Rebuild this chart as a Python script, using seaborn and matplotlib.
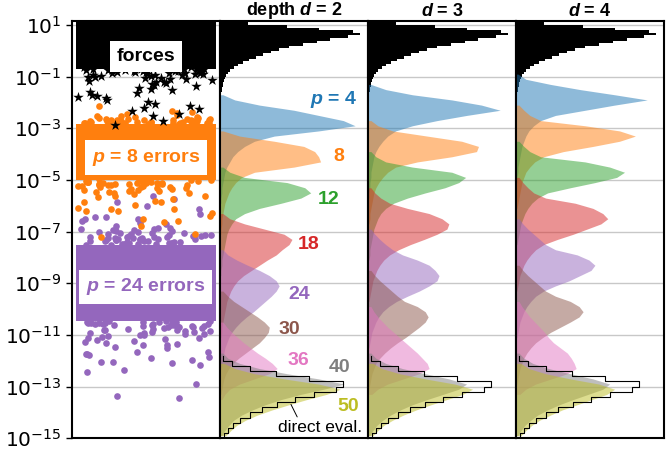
import numpy as np
import matplotlib
matplotlib.use("Agg")
import matplotlib.pyplot as plt
import seaborn as sns

# all values are log10 of |force| or |error|
orders = [4, 8, 12, 18, 24, 30, 36, 40, 50]
panel_titles = ["depth $d$ = 2", "$d$ = 3", "$d$ = 4"]
tick_exps = [1, -1, -3, -5, -7, -9, -11, -13, -15]

# left panel: solid core of each sample cloud + the ragged edge / outlier samples
force_core = [-0.7, 1.2]
force_pts = [-0.62, -0.64, -0.65, -0.66, -0.67, -0.68, -0.69, -0.7, -0.7, -0.71,
             -0.72, -0.72, -0.73, -0.74, -0.75, -0.75, -0.76, -0.77, -0.78, -0.78,
             -0.79, -0.8, -0.81, -0.82, -0.83, -0.84, -0.85, -0.86, -0.87, -0.88,
             -0.9, -0.91, -0.92, -0.94, -0.95, -0.97, -0.98, -1.0, -1.02, -1.04,
             -1.06, -1.08, -1.1, -1.13, -1.16, -1.19, -1.22, -1.26, -1.3, -1.34,
             -1.38, -1.43, -1.47, -1.52, -1.58, -1.63, -1.69, -1.74, -1.79, -1.83,
             -1.91, -1.99, -2.06, -2.13, -2.21, -2.26, -2.31, -2.44, -2.53, -2.72, -2.86]
err8_core = [-5.0, -2.82]
err8_pts = [-2.12, -2.31, -2.37, -2.42, -2.46, -2.48, -2.51, -2.54, -2.56, -2.58,
            -2.6, -2.61, -2.62, -2.63, -2.64, -2.65, -2.66, -2.66, -2.67, -2.68,
            -2.68, -2.69, -2.7, -2.7, -2.71, -2.72, -2.72, -2.73, -2.73, -2.74,
            -2.74, -2.75, -2.75, -2.76, -2.76, -2.77, -2.77, -2.78, -2.78, -2.79,
            -2.79, -2.8, -2.8, -2.81, -2.81, -2.82, -2.83, -2.84,
            -4.98, -4.99, -5.0, -5.01, -5.02, -5.03, -5.04, -5.05, -5.05, -5.06,
            -5.07, -5.08, -5.09, -5.1, -5.1, -5.11, -5.12, -5.13, -5.14, -5.15,
            -5.16, -5.17, -5.18, -5.19, -5.2, -5.21, -5.22, -5.23, -5.24, -5.26,
            -5.27, -5.29, -5.3, -5.32, -5.33, -5.35, -5.37, -5.39, -5.41, -5.43,
            -5.45, -5.47, -5.5, -5.52,
            -5.55, -5.62, -5.62, -5.67, -5.73, -5.8, -5.87, -5.87, -5.95, -6.08,
            -6.14, -6.14, -6.2, -6.2, -6.27, -6.38, -6.5, -6.58, -6.62, -6.78,
            -7.1, -7.22]
err24_core = [-10.45, -7.5]
err24_pts = [-5.63, -5.73, -5.87, -6.0, -6.14, -6.33, -6.45, -6.45, -6.52, -6.52,
             -6.58, -6.66, -6.72, -6.8, -6.84, -6.87, -6.9, -6.9, -6.93, -6.95,
             -6.97, -6.99, -7.0, -7.02, -7.04, -7.05, -7.07, -7.08, -7.1, -7.11,
             -7.12, -7.14, -7.15, -7.16, -7.17, -7.19, -7.2, -7.21, -7.22, -7.23,
             -7.24, -7.25, -7.26, -7.27, -7.28, -7.29, -7.3, -7.31, -7.32, -7.33,
             -7.34, -7.35, -7.36, -7.37, -7.38, -7.39, -7.4, -7.41, -7.42, -7.43,
             -7.44, -7.45, -7.46, -7.47, -7.48, -7.49, -7.5, -7.51,
             -10.44, -10.45, -10.46, -10.47, -10.48, -10.49, -10.5, -10.51, -10.52, -10.53,
             -10.54, -10.55, -10.56, -10.57, -10.58, -10.59, -10.6, -10.61, -10.62, -10.63,
             -10.64, -10.65, -10.66, -10.67, -10.69, -10.7, -10.71, -10.73, -10.74, -10.76,
             -10.77, -10.79, -10.8, -10.82, -10.83, -10.85, -10.87, -10.89, -10.91, -10.93,
             -10.95, -10.97, -10.99, -11.02, -11.04, -11.07, -11.1, -11.13, -11.16, -11.2,
             -11.23, -11.27, -11.3, -11.34, -11.4, -11.4, -11.46, -11.52, -11.65, -11.65,
             -11.72, -11.72, -11.78, -11.85, -11.91, -11.98, -12.04, -12.04, -12.1, -12.17,
             -12.37, -12.43, -12.88, -13.37, -13.43]

# histograms: (upper bin edge, bar lengths going downwards)
forces_top = 1.1
forces_hist = [28, 68, 100, 135, 142, 130, 112, 98, 84, 70, 60, 52, 44, 37, 29,
               23, 18, 14, 10, 8, 6, 5, 4, 3, 3, 2, 2, 1.5, 1, 1, 1]
direct_top = -11.8
direct_hist = [3, 12, 30, 57, 90, 125, 118, 95, 76, 58, 43, 30, 20, 13, 8, 4]

d2 = {
    4: (-1.6, [3, 15, 40, 75, 100, 125, 137, 100, 55, 35, 25, 18, 13, 10, 7, 5, 4, 3, 2, 2, 1, 1]),
    8: (-3.0, [3, 20, 55, 85, 96, 100, 102, 75, 35, 22, 16, 12, 9, 7, 5, 4, 3, 2, 2, 1, 1]),
    12: (-4.4, [3, 10, 25, 68, 86, 92, 82, 62, 40, 25, 16, 12, 9, 7, 6, 5, 4, 3, 2, 2, 1, 1]),
    18: (-6.2, [3, 10, 25, 45, 65, 73, 70, 63, 57, 48, 40, 32, 24, 18, 14, 11, 9, 7, 6, 5, 4, 3, 2, 2, 1]),
    24: (-7.6, [3, 8, 17, 28, 40, 50, 57, 60, 57, 52, 46, 40, 34, 27, 21, 16, 12, 9, 7, 5, 4, 3, 2, 1]),
    30: (-9.2, [3, 8, 14, 22, 30, 38, 45, 50, 49, 45, 40, 33, 26, 19, 13, 9, 6, 4, 3, 2, 1]),
    36: (-10.4, [3, 7, 12, 18, 24, 31, 38, 46, 53, 58, 50, 35, 20, 10, 5, 2]),
    40: (-11.6, [3, 8, 20, 40, 68, 100, 126, 105, 82, 62, 46, 33, 22, 14, 9, 5, 2]),
    50: (-12.0, [4, 15, 35, 65, 100, 122, 108, 88, 70, 53, 38, 26, 17, 11, 6]),
}
d3 = {
    4: (-1.2, [3, 18, 45, 85, 115, 134, 100, 70, 45, 28, 20, 15, 11, 8, 6, 5, 4, 3, 3, 2, 2, 1, 1]),
    8: (-2.6, [3, 10, 25, 60, 95, 112, 110, 85, 50, 28, 20, 15, 11, 8, 6, 5, 4, 3, 2, 2, 1]),
    12: (-3.8, [3, 8, 18, 45, 85, 99, 92, 78, 58, 40, 26, 18, 13, 10, 8, 6, 5, 4, 3, 2, 2, 1]),
    18: (-5.2, [3, 7, 13, 22, 40, 62, 75, 82, 80, 70, 57, 43, 31, 22, 16, 12, 9, 7, 5, 4, 3, 2, 1]),
    24: (-6.8, [3, 7, 12, 18, 25, 35, 50, 62, 68, 72, 70, 62, 52, 40, 29, 21, 15, 11, 8, 6, 4, 3, 2, 1]),
    30: (-8.4, [3, 7, 12, 18, 24, 30, 37, 50, 58, 61, 58, 52, 45, 38, 30, 23, 17, 12, 8, 6, 4, 3, 2, 1]),
    36: (-9.8, [3, 6, 10, 15, 20, 26, 32, 38, 44, 50, 55, 60, 62, 52, 36, 20, 10, 4]),
    40: (-11.6, [3, 8, 18, 35, 58, 82, 100, 92, 76, 60, 45, 33, 23, 15, 9, 5, 2]),
    50: (-12.0, [5, 14, 32, 58, 88, 106, 96, 80, 64, 49, 36, 25, 16, 10, 5]),
}
d4 = {
    4: (-0.8, [2, 10, 35, 65, 100, 133, 100, 70, 40, 25, 18, 13, 10, 8, 6, 5, 4, 3, 2, 2, 1, 1]),
    8: (-2.0, [3, 8, 14, 25, 70, 105, 121, 105, 78, 48, 28, 19, 14, 10, 8, 6, 5, 4, 3, 2, 1]),
    12: (-3.4, [3, 8, 14, 25, 70, 95, 110, 102, 80, 55, 32, 22, 16, 12, 9, 7, 5, 4, 3, 2, 1]),
    18: (-4.8, [3, 7, 12, 18, 30, 60, 78, 88, 93, 86, 72, 58, 42, 28, 20, 15, 11, 8, 6, 4, 3, 2, 1]),
    24: (-6.4, [3, 7, 12, 18, 24, 30, 40, 62, 74, 80, 76, 65, 54, 40, 28, 20, 15, 11, 8, 6, 4, 3, 2, 1]),
    30: (-8.2, [3, 7, 12, 18, 24, 30, 40, 55, 64, 68, 64, 55, 45, 35, 27, 20, 15, 11, 8, 6, 4, 3, 2, 1]),
    36: (-9.6, [3, 6, 10, 14, 19, 24, 29, 33, 38, 45, 52, 56, 59, 61, 52, 36, 20, 10, 4]),
    40: (-11.6, [3, 8, 17, 33, 55, 78, 95, 88, 73, 58, 44, 32, 22, 15, 9, 5, 2]),
    50: (-12.0, [5, 13, 30, 55, 84, 100, 92, 77, 62, 47, 35, 24, 16, 10, 5]),
}

plt.rcParams['mathtext.fontset'] = 'custom'
plt.rcParams['mathtext.rm'] = 'DejaVu Sans'
plt.rcParams['mathtext.it'] = 'Liberation Sans:italic:bold'
plt.rcParams['mathtext.bf'] = 'Liberation Sans:bold'
BOLD = dict(family='Liberation Sans', fontweight='bold')

pal = sns.color_palette('tab10')


def hist(ax, top, lengths, width, **kw):
    lengths = [float(v) for v in lengths]
    edges = top - width * np.arange(len(lengths) + 1)
    centers = list(edges[:-1] - width / 2)
    sns.histplot(y=centers, weights=lengths, bins=list(edges[::-1]), ax=ax, **kw)


fig, axes = plt.subplots(1, 4, figsize=(6.66, 4.5), dpi=100, sharey=True,
                         gridspec_kw=dict(wspace=0))
fig.subplots_adjust(left=0.108, right=0.997, bottom=0.026, top=0.953)

# left panel: samples
ax0 = axes[0]
np.random.seed(3)
for pts, core, col, mk, sz in [(err24_pts, err24_core, pal[4], 'o', 4.8),
                               (err8_pts, err8_core, pal[1], 'o', 4.8),
                               (force_pts, force_core, 'black', '*', 8)]:
    ax0.fill_between([-0.47, 0.47], core[0], core[1], color=col, lw=0)
    sns.stripplot(y=pts, ax=ax0, color=col, marker=mk, size=sz, jitter=0.46, linewidth=0)
ax0.set_xlim(-0.5, 0.5)
box = dict(boxstyle='square,pad=0.35', facecolor='white', edgecolor='none')
ax0.text(0, -0.23, 'forces', color='black', fontsize=14, ha='center', va='center', bbox=box, **BOLD)
ax0.text(0, -4.13, '$p$ = 8 errors', color=pal[1], fontsize=14, ha='center', va='center', bbox=box, **BOLD)
ax0.text(0, -9.14, '$p$ = 24 errors', color=pal[4], fontsize=14, ha='center', va='center', bbox=box, **BOLD)

# histogram panels
for ax, title, data in zip(axes[1:], panel_titles, [d2, d3, d4]):
    hist(ax, forces_top, forces_hist, 0.1, element='bars', color='black', alpha=1,
         linewidth=0)
    for i, p in enumerate(orders):
        top, lengths = data[p]
        hist(ax, top, lengths, 0.2, element='poly', color=pal[i], alpha=0.5, linewidth=0)
    hist(ax, direct_top, direct_hist, 0.2, element='step', fill=False, color='black', linewidth=0.8)
    ax.set_xlim(0, 150)
    ax.set_title(title, fontsize=13, pad=4, **BOLD)
    ax.tick_params(left=False, labelleft=False, bottom=False, labelbottom=False)

ax1 = axes[1]
label_pos = {4: (115, -1.89), 8: (120, -4.09), 12: (110, -5.75), 18: (90, -7.48),
             24: (80, -9.45), 30: (70, -10.8), 36: (80, -11.99), 40: (121, -12.26),
             50: (130, -13.76)}
for i, p in enumerate(orders):
    x, y = label_pos[p]
    txt = '$p$ = 4' if p == 4 else str(p)
    ax1.text(x, y, txt, color=pal[i], fontsize=14, ha='center', va='center', **BOLD)
ax1.annotate('direct eval.', xy=(72, -13.69), xytext=(101, -14.57), fontsize=12.5,
             family='Liberation Sans', ha='center', va='center',
             arrowprops=dict(arrowstyle='-', lw=0.7, color='black', relpos=(0.25, 1.0),
                             shrinkA=0, shrinkB=0))

for ax in axes:
    ax.set_xlabel('')
    ax.set_ylabel('')
    ax.set_axisbelow(True)
    ax.yaxis.grid(True, color='#c8c8c8', lw=1)
    for s in ax.spines.values():
        s.set_linewidth(1.5)

ax0.set_ylim(-15, 1.15)
ax0.set_yticks(tick_exps)
ax0.set_yticklabels([f'$10^{{{e}}}$' for e in tick_exps], fontsize=14.5)
ax0.tick_params(axis='y', left=True, labelleft=True, length=4, width=1)
ax0.tick_params(axis='x', bottom=False, labelbottom=False)

fig.savefig('out.png', dpi=100)
